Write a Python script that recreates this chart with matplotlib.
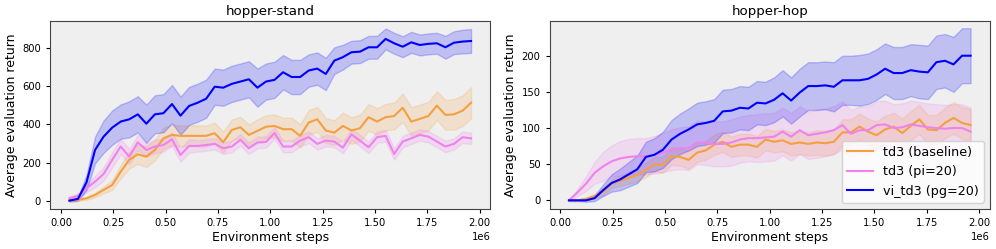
import numpy as np
import matplotlib
matplotlib.use("Agg")
import matplotlib.pyplot as plt

# Evaluation points (48 evaluations over 2e6 environment steps)
steps = np.arange(1, 49) * 40816

# hopper-stand
stand_td3 = [0, 4, 12, 30, 56, 82, 152, 214, 243, 231, 266, 327, 345, 340, 340, 340,
             340, 354, 307, 371, 385, 345, 366, 388, 392, 375, 375, 340, 410, 427, 368, 357,
             392, 368, 380, 438, 415, 438, 444, 488, 415, 429, 444, 499, 450, 453, 472, 514]
stand_td3_std = [5, 5, 8, 12, 18, 25, 35, 45, 50, 55, 55, 55, 55, 55, 55, 55,
                 55, 55, 55, 55, 55, 55, 60, 60, 60, 60, 60, 60, 65, 65, 65, 65,
                 70, 70, 70, 70, 70, 70, 70, 75, 75, 75, 75, 75, 78, 80, 80, 82]
stand_pi = [12, 25, 65, 100, 140, 214, 284, 231, 306, 266, 284, 292, 322, 240, 287, 287,
            292, 298, 275, 284, 319, 275, 305, 308, 355, 284, 284, 315, 333, 298, 315, 310,
            278, 348, 315, 280, 333, 340, 245, 310, 327, 345, 336, 310, 284, 298, 333, 327]
stand_pi_std = [10, 12, 20, 30, 35, 40, 40, 40, 40, 35, 35, 35, 35, 35, 35, 30,
                30, 30, 30, 30, 30, 30, 30, 30, 30, 30, 30, 30, 30, 30, 30, 30,
                30, 30, 30, 30, 30, 30, 30, 30, 30, 30, 30, 30, 30, 30, 30, 30]
stand_vi = [0, 9, 96, 266, 336, 383, 415, 427, 453, 404, 453, 459, 507, 446, 497, 514,
            535, 598, 593, 613, 625, 637, 593, 625, 634, 674, 649, 649, 683, 693, 665, 735,
            753, 779, 782, 805, 805, 849, 826, 808, 831, 817, 823, 826, 805, 829, 835, 838]
stand_vi_std = [5, 10, 40, 70, 85, 90, 90, 95, 95, 100, 100, 100, 100, 100, 100, 100,
                100, 95, 95, 95, 95, 95, 100, 95, 95, 90, 90, 90, 85, 85, 85, 70,
                65, 60, 60, 60, 60, 55, 55, 55, 55, 55, 55, 55, 60, 60, 62, 63]

# hopper-hop
hop_td3 = [0, 0, 2, 6, 12, 23, 27, 31, 35, 42, 50, 49, 61, 60, 56, 66,
           69, 77, 81, 74, 77, 77, 74, 84, 81, 83, 78, 80, 78, 80, 79, 81,
           94, 94, 102, 95, 90, 98, 102, 93, 103, 112, 98, 97, 107, 114, 107, 104]
hop_td3_std = [1, 1, 2, 3, 5, 6, 7, 8, 9, 10, 10, 11, 12, 12, 12, 13,
               13, 14, 14, 14, 15, 15, 15, 15, 15, 15, 16, 16, 16, 17, 17, 17,
               18, 18, 18, 18, 19, 19, 19, 20, 20, 20, 20, 21, 21, 22, 22, 22]
hop_pi = [0, 11, 23, 38, 47, 54, 58, 60, 61, 61, 63, 66, 70, 72, 72, 80,
          79, 78, 78, 80, 84, 86, 86, 87, 88, 95, 88, 97, 90, 92, 94, 97,
          104, 92, 97, 97, 104, 105, 100, 101, 105, 103, 101, 100, 99, 100, 100, 95]
hop_pi_std = [1, 5, 10, 15, 20, 22, 24, 25, 25, 25, 26, 27, 28, 29, 30, 30,
              30, 31, 31, 32, 32, 32, 33, 33, 33, 33, 33, 33, 33, 33, 33, 33,
              33, 33, 33, 33, 33, 33, 33, 33, 33, 33, 33, 33, 33, 33, 33, 33]
hop_vi = [0, 0, 0, 3, 14, 24, 29, 36, 43, 60, 63, 70, 84, 92, 98, 105,
          107, 110, 123, 124, 128, 127, 135, 134, 139, 148, 138, 149, 158, 158, 159, 157,
          166, 166, 166, 168, 174, 182, 176, 176, 180, 178, 177, 191, 193, 188, 200, 200]
hop_vi_std = [1, 1, 2, 4, 8, 12, 15, 17, 19, 21, 23, 25, 27, 28, 29, 30,
              30, 30, 30, 30, 30, 30, 30, 30, 31, 32, 32, 33, 33, 33, 33, 34,
              34, 34, 35, 35, 35, 35, 36, 36, 36, 37, 37, 37, 37, 38, 38, 38]

labels = ["td3 (baseline)", "td3 (pi=20)", "vi_td3 (pg=20)"]
colors = ["#f4a040", "violet", "blue"]

panels = [
    ("hopper-stand", [(stand_td3, stand_td3_std), (stand_pi, stand_pi_std), (stand_vi, stand_vi_std)], (-44, 943)),
    ("hopper-hop", [(hop_td3, hop_td3_std), (hop_pi, hop_pi_std), (hop_vi, hop_vi_std)], (-12, 248)),
]

fig, axes = plt.subplots(1, 2, figsize=(9.96, 2.49), dpi=100)
fig.subplots_adjust(left=0.0502, right=0.994, bottom=0.1606, top=0.9157, wspace=0.134)

for ax, (title, series, ylim) in zip(axes, panels):
    ax.set_facecolor("#efefef")
    for (mean, std), lab, col in zip(series, labels, colors):
        mean = np.array(mean, dtype=float)
        std = np.array(std, dtype=float)
        ax.plot(steps, mean, color=col, lw=1.5, label=lab)
        ax.fill_between(steps, mean - std, mean + std, color=col, alpha=0.2)
    ax.set_title(title, fontsize=9.6, pad=4)
    ax.set_xlabel("Environment steps", fontsize=9, labelpad=2)
    ax.set_ylabel("Average evaluation return", fontsize=9, labelpad=3)
    ax.tick_params(labelsize=7.2, length=3)
    ax.xaxis.get_offset_text().set_fontsize(7.2)
    ax.set_xlim(-0.052e6, 2.052e6)
    ax.set_ylim(*ylim)
    for sp in ax.spines.values():
        sp.set_color("#444444")

axes[1].legend(loc="lower right", fontsize=9.2)

plt.savefig("out.png")
